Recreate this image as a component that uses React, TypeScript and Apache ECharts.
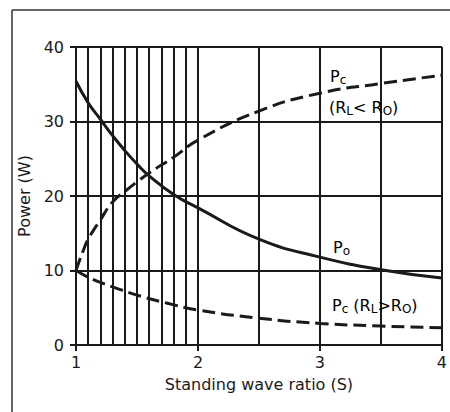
import React, { useEffect, useRef } from 'react';
import * as echarts from 'echarts';

// Po (solid)
const poS = [1, 1.1, 1.2, 1.3, 1.4, 1.5, 1.6, 1.8, 2, 2.5, 3, 3.5, 4];
const poW = [35.4, 32.5, 30.3, 28.1, 26.1, 24.3, 22.7, 20.2, 18.4, 14.2, 11.8, 10.1, 9.0];
// Pc (RL < RO) (upper dashed)
const pcUpS = [1, 1.03, 1.06, 1.1, 1.2, 1.3, 1.4, 1.5, 1.6, 1.8, 2, 2.5, 3, 3.5, 4];
const pcUpW = [10, 11.4, 12.7, 14.2, 16.8, 19.2, 20.6, 21.9, 23.1, 25.2, 27.5, 31.4, 33.8, 35.1, 36.2];
// Pc (RL > RO) (lower dashed)
const pcDnS = [1, 1.1, 1.2, 1.3, 1.5, 1.75, 2, 2.5, 3, 3.5, 4];
const pcDnW = [10, 9.1, 8.4, 7.8, 6.7, 5.6, 4.7, 3.6, 2.9, 2.55, 2.3];
// extra vertical grid lines
const fineGridS = [1.1, 1.2, 1.3, 1.4, 1.5, 1.6, 1.7, 1.8, 1.9, 2.5, 3.5];

const pairs = (xs: number[], ys: number[]) => xs.map((x, i) => [x, ys[i]]);

const INK = '#1a1a1a';
const FONT = 'DejaVu Sans';

export default function App() {
  const ref = useRef<HTMLDivElement>(null);
  useEffect(() => {
    if (!ref.current) return;
    const chart = echarts.init(ref.current, undefined, { renderer: 'svg' });
    const gridLine = { lineStyle: { color: INK, width: 2 } };
    const rich = {
      p: { fontSize: 16, fontFamily: FONT, color: INK },
      s: { fontSize: 12, fontFamily: FONT, color: INK, padding: [8, 0, 0, 0] },
    };
    chart.setOption({
      animation: false,
      backgroundColor: '#fff',
      grid: { left: 76, right: 7, top: 47, bottom: 67 },
      xAxis: {
        type: 'value',
        min: 1,
        max: 4,
        interval: 1,
        name: 'Standing wave ratio (S)',
        nameLocation: 'middle',
        nameGap: 31,
        nameTextStyle: { fontSize: 16, fontFamily: FONT, color: INK },
        axisLine: { show: true, onZero: false, lineStyle: { color: INK, width: 2 } },
        axisTick: { show: true, length: 6, lineStyle: { color: INK, width: 2 } },
        axisLabel: { margin: 9, fontSize: 16, fontFamily: FONT, color: INK },
        splitLine: { show: true, ...gridLine },
      },
      yAxis: {
        type: 'value',
        min: 0,
        max: 40,
        interval: 10,
        name: 'Power (W)',
        nameLocation: 'middle',
        nameGap: 36,
        nameTextStyle: { fontSize: 16, fontFamily: FONT, color: INK },
        axisLine: { show: true, lineStyle: { color: INK, width: 2 } },
        axisTick: { show: true, length: 6, lineStyle: { color: INK, width: 2 } },
        axisLabel: { margin: 12, fontSize: 16, fontFamily: FONT, color: INK },
        splitLine: { show: true, ...gridLine },
      },
      series: [
        {
          type: 'line',
          data: pairs(poS, poW),
          smooth: 0.5,
          symbol: 'none',
          lineStyle: { color: INK, width: 3, type: 'solid' },
          z: 5,
          markLine: {
            silent: true,
            symbol: ['none', 'none'],
            label: { show: false },
            lineStyle: { type: 'solid', color: INK, width: 2 },
            data: fineGridS.map((v) => ({ xAxis: v })),
            z: 1,
          },
        },
        {
          type: 'line',
          data: pairs(pcUpS, pcUpW),
          smooth: 0.5,
          symbol: 'none',
          lineStyle: { color: INK, width: 3, type: [13, 6] },
          z: 5,
        },
        {
          type: 'line',
          data: pairs(pcDnS, pcDnW),
          smooth: 0.5,
          symbol: 'none',
          lineStyle: { color: INK, width: 3, type: [13, 6] },
          z: 5,
        },
      ],
      graphic: [
        { type: 'line', shape: { x1: 12, y1: 10, x2: 450, y2: 10 }, style: { stroke: '#333', lineWidth: 1.5 } },
        { type: 'line', shape: { x1: 12, y1: 10, x2: 12, y2: 412 }, style: { stroke: '#333', lineWidth: 1.5 } },
        {
          type: 'text', x: 330, y: 66, z: 10,
          style: { text: '{p|P}{s|c}', rich, textVerticalAlign: 'top' },
        },
        {
          type: 'text', x: 329, y: 97, z: 10,
          style: { text: '{p|(R}{s|L}{p|< R}{s|O}{p|)}', rich, textVerticalAlign: 'top' },
        },
        {
          type: 'text', x: 333, y: 237, z: 10,
          style: { text: '{p|P}{s|o}', rich, textVerticalAlign: 'top' },
        },
        {
          type: 'text', x: 332, y: 295, z: 10,
          style: { text: '{p|P}{s|c}{p| (R}{s|L}{p|>R}{s|O}{p|)}', rich, textVerticalAlign: 'top' },
        },
      ],
    });
    return () => chart.dispose();
  }, []);
  return (
    <div
      ref={ref}
      style={{ position: 'absolute', left: 0, top: 0, width: 450, height: 412 }}
    />
  );
}
